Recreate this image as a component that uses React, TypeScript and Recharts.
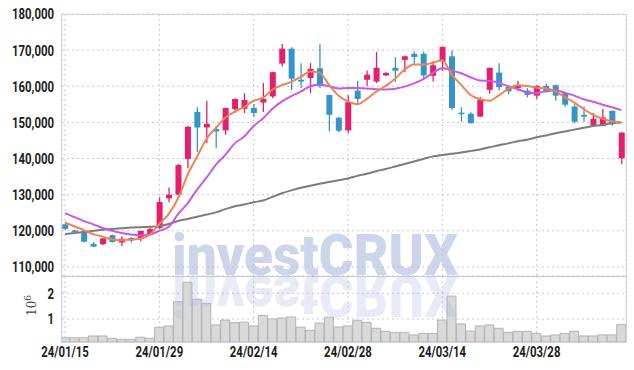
import React from 'react';
import { ComposedChart, BarChart, Bar, Line, XAxis, YAxis, CartesianGrid } from 'recharts';

// trading days, 24/01/15 .. 24/04/11
const dates = [
  '24/01/15', '24/01/16', '24/01/17', '24/01/18', '24/01/19', '24/01/22', '24/01/23', '24/01/24', '24/01/25', '24/01/26',
  '24/01/29', '24/01/30', '24/01/31', '24/02/01', '24/02/02', '24/02/05', '24/02/06', '24/02/07', '24/02/08', '24/02/13',
  '24/02/14', '24/02/15', '24/02/16', '24/02/19', '24/02/20', '24/02/21', '24/02/22', '24/02/23', '24/02/26', '24/02/27',
  '24/02/28', '24/02/29', '24/03/04', '24/03/05', '24/03/06', '24/03/07', '24/03/08', '24/03/11', '24/03/12', '24/03/13',
  '24/03/14', '24/03/15', '24/03/18', '24/03/19', '24/03/20', '24/03/21', '24/03/22', '24/03/25', '24/03/26', '24/03/27',
  '24/03/28', '24/03/29', '24/04/01', '24/04/02', '24/04/03', '24/04/04', '24/04/05', '24/04/08', '24/04/09', '24/04/11',
];

const opens = [
  121800, 120100, 120000, 116400, 116300, 118800, 116800, 118000, 117700, 118900,
  120800, 129000, 130000, 139900, 152900, 148600, 148200, 147800, 153700, 153800,
  154000, 155500, 157200, 166300, 170400, 161800, 162300, 165000, 157600, 151300,
  147800, 158800, 161800, 161300, 163000, 165100, 167300, 169000, 169000, 162900,
  166900, 168300, 152700, 152400, 151600, 159000, 163800, 159800, 159500, 158800,
  157400, 160100, 160300, 158100, 154400, 152100, 149100, 149100, 153200, 140100,
];
const highs = [
  122000, 120300, 120200, 116900, 118000, 119000, 118500, 118300, 120000, 121000,
  129300, 132000, 138500, 149000, 154200, 156000, 149000, 154100, 156600, 158100,
  155100, 160900, 164000, 171700, 170800, 166400, 166400, 171700, 157700, 151600,
  157500, 161500, 164400, 169500, 163900, 168100, 168500, 169600, 169600, 166900,
  171000, 169900, 154200, 152800, 157000, 165200, 166400, 160200, 161500, 159500,
  160300, 160700, 160500, 158300, 155000, 154400, 152600, 153700, 153300, 147300,
];
const lows = [
  120300, 119500, 116800, 115500, 116100, 116800, 115800, 116800, 117100, 118700,
  120500, 127900, 130000, 137300, 141800, 144300, 142900, 146600, 152600, 152600,
  151500, 152900, 156700, 165500, 159000, 159500, 158100, 159500, 147500, 147300,
  147000, 154900, 160100, 160900, 162800, 161200, 163900, 166200, 162300, 161300,
  164300, 153500, 150200, 149700, 151500, 157900, 158800, 157800, 158600, 156900,
  156500, 158300, 156000, 154400, 149800, 150200, 149000, 149000, 149100, 138400,
];
const closes = [
  120500, 119700, 117000, 115600, 117900, 116900, 117800, 117300, 120000, 120500,
  128000, 130000, 138200, 148800, 148600, 149600, 147500, 154000, 156500, 156200,
  152600, 156500, 163900, 170400, 162100, 161300, 164800, 160100, 152100, 147700,
  155600, 156500, 163200, 165100, 163700, 164300, 168300, 168100, 163000, 165800,
  170900, 154000, 152300, 149800, 156300, 165100, 159800, 158600, 160100, 157600,
  160100, 158400, 157400, 154900, 150200, 151600, 151000, 151400, 149500, 147200,
];
const volumes = [
  270000, 270000, 270000, 340000, 340000, 250000, 210000, 210000, 290000, 250000,
  680000, 730000, 1670000, 2430000, 1770000, 1610000, 770000, 960000, 860000, 880000,
  730000, 1140000, 1000000, 1040000, 1080000, 680000, 560000, 840000, 1070000, 690000,
  730000, 950000, 870000, 640000, 520000, 480000, 480000, 380000, 440000, 440000,
  960000, 1890000, 810000, 530000, 730000, 770000, 640000, 480000, 520000, 520000,
  440000, 340000, 380000, 440000, 520000, 340000, 340000, 380000, 380000, 790000,
];
const ma5 = [
  122300, 121200, 120200, 119100, 118400, 117600, 117400, 117600, 117800, 119000,
  121900, 124700, 129100, 135500, 140500, 145500, 148500, 151300, 153000, 154300,
  156000, 156800, 159100, 160300, 161200, 162600, 164100, 163700, 160400, 157400,
  155800, 155000, 156500, 158500, 160100, 162100, 164600, 166000, 166000, 166500,
  167200, 163200, 160400, 157600, 156400, 156000, 157500, 159300, 160300, 160100,
  159600, 159400, 158600, 157000, 155500, 153700, 152100, 151000, 150300, 150000,
];
const ma20 = [
  124900, 123800, 122700, 121800, 120800, 120000, 119400, 119000, 118700, 119000,
  120000, 121100, 124700, 127600, 131400, 134700, 138300, 141000, 144200, 146100,
  149000, 151100, 153800, 155800, 157300, 158500, 160000, 160400, 160000, 159400,
  159500, 159500, 159400, 159200, 159100, 159300, 159900, 160800, 162000, 163700,
  165000, 164400, 163600, 162500, 161600, 161500, 160900, 160000, 159200, 158300,
  158100, 158600, 158900, 158200, 157400, 156400, 155700, 154900, 154200, 153400,
];
const ma60 = [
  119100, 119400, 119700, 120000, 120300, 120500, 120700, 120900, 121000, 121100,
  121300, 121900, 122700, 123300, 123900, 124500, 125100, 126000, 126800, 127300,
  127900, 128400, 129400, 130400, 131200, 131900, 132500, 133000, 133500, 134000,
  134500, 135200, 135800, 136500, 137100, 137800, 138500, 139200, 139900, 140600,
  141000, 141300, 141700, 142100, 142500, 143100, 143700, 144200, 144800, 145200,
  145900, 146400, 147000, 147500, 148000, 148500, 149000, 149300, 149800, 150000,
];

const priceTicks = [110000, 120000, 130000, 140000, 150000, 160000, 170000, 180000];
const volumeTicks = [1000000, 2000000];
const dateTicks = [0, 10, 20, 30, 40, 50];

const UP = '#e61e6c';
const DOWN = '#3496c8';
const GRID = '#c4c8da';
const AXIS_FONT = "Roboto, 'Liberation Sans', sans-serif";

const data = dates.map((date, i) => ({
  i,
  date,
  open: opens[i],
  high: highs[i],
  low: lows[i],
  close: closes[i],
  volume: volumes[i],
  ma5: ma5[i],
  ma20: ma20[i],
  ma60: ma60[i],
}));

const xDomain = [-0.32, 59.48];

const Candle = (props: any) => {
  const { x, y, width, height, payload } = props;
  if (!payload || height == null) return null;
  const { open, close, high, low } = payload;
  const color = close >= open ? UP : DOWN;
  const range = high - low || 1;
  const px = (v: number) => y + ((high - v) / range) * height;
  const cx = x + width / 2;
  const top = px(Math.max(open, close));
  const bot = px(Math.min(open, close));
  return (
    <g>
      <line x1={cx} x2={cx} y1={y} y2={y + height} stroke={color} strokeWidth={1.3} />
      <rect x={x} y={top} width={width} height={Math.max(1.5, bot - top)} fill={color} />
    </g>
  );
};

// narrow, heavy axis lettering like the original
const NarrowTick = (props: any) => {
  const { x, y, payload, anchor, dy, fmt } = props;
  return (
    <g transform={`translate(${x},${y})`}>
      <text
        transform="scale(0.76,1)"
        textAnchor={anchor}
        dy={dy}
        fill="#1c1c1c"
        fontSize={15}
        fontWeight={700}
        fontFamily={AXIS_FONT}
      >
        {fmt(payload.value)}
      </text>
    </g>
  );
};

const fmtPrice = (v: number) => v.toLocaleString('en-US');
const fmtVol = (v: number) => String(v / 1000000);
const fmtDate = (v: number) => dates[v] ?? '';

export default function App() {
  return (
    <div style={{ position: 'absolute', left: 0, top: 0, width: 634, height: 370, background: '#fff', overflow: 'hidden' }}>
      <div style={{ position: 'absolute', left: 0, top: 0 }}>
        <ComposedChart width={634} height={276} data={data} margin={{ top: 14, right: 8, bottom: 0, left: 0 }}>
          <CartesianGrid stroke={GRID} strokeDasharray="2 3" />
          <XAxis dataKey="i" type="number" domain={xDomain} ticks={dateTicks} allowDataOverflow hide />
          <YAxis
            domain={[107500, 180000]}
            ticks={priceTicks}
            allowDataOverflow
            width={62}
            axisLine={false}
            tickLine={false}
            tickSize={0}
            tickMargin={8}
            tick={<NarrowTick anchor="end" dy="0.36em" fmt={fmtPrice} />}
          />
          <Line dataKey="ma60" type="monotone" stroke="#7c7c7c" strokeWidth={2} dot={false} isAnimationActive={false} />
          <Bar dataKey={(d: any) => [d.low, d.high]} barSize={6} shape={<Candle />} isAnimationActive={false} />
          <Line dataKey="ma20" type="monotone" stroke="#c95ae8" strokeWidth={2} dot={false} isAnimationActive={false} />
          <Line dataKey="ma5" type="monotone" stroke="#ef8452" strokeWidth={2} dot={false} isAnimationActive={false} />
        </ComposedChart>
      </div>
      <div style={{ position: 'absolute', left: 0, top: 276 }}>
        <BarChart width={634} height={94} data={data} margin={{ top: 0, right: 8, bottom: 8, left: 0 }}>
          <CartesianGrid stroke={GRID} strokeDasharray="2 3" />
          <XAxis
            dataKey="i"
            type="number"
            domain={xDomain}
            ticks={dateTicks}
            allowDataOverflow
            height={20}
            axisLine={false}
            tickLine={false}
            tickSize={0}
            tickMargin={3}
            tick={<NarrowTick anchor="middle" dy="0.78em" fmt={fmtDate} />}
          />
          <YAxis
            domain={[105000, 2673000]}
            ticks={volumeTicks}
            allowDataOverflow
            width={62}
            axisLine={false}
            tickLine={false}
            tickSize={0}
            tickMargin={8}
            tick={<NarrowTick anchor="end" dy="0.36em" fmt={fmtVol} />}
          />
          <Bar dataKey="volume" barSize={9} fill="#d9d9d9" stroke="#b3b3b3" strokeWidth={1} isAnimationActive={false} />
        </BarChart>
      </div>
      {/* frame and panel separator */}
      <div style={{ position: 'absolute', left: 61, top: 14, width: 564, height: 327, border: '1px solid #d2d4de' }} />
      <div style={{ position: 'absolute', left: 61, top: 276, width: 566, height: 1, background: '#c8c8cc' }} />
      {/* watermark + volume unit */}
      <svg width={634} height={370} style={{ position: 'absolute', left: 0, top: 0, pointerEvents: 'none' }}>
        <text
          x={172}
          y={275}
          textLength={286}
          lengthAdjust="spacingAndGlyphs"
          fontFamily="Roboto, 'Open Sans', sans-serif"
          fontWeight={900}
          fontSize={57}
          fill="#b0bbdd"
          fillOpacity={0.62}
        >
          investCRUX
        </text>
        <text
          x={172}
          y={275}
          transform="translate(0 551) scale(1 -1)"
          textLength={286}
          lengthAdjust="spacingAndGlyphs"
          fontFamily="Roboto, 'Open Sans', sans-serif"
          fontWeight={900}
          fontSize={57}
          fill="#b0bbdd"
          fillOpacity={0.28}
        >
          investCRUX
        </text>
        <text x={36} y={316} transform="rotate(-90 36 316)" fontFamily="'DejaVu Serif', serif" fontSize={12} fill="#444">
          10<tspan dy={-5} fontSize={9}>6</tspan>
        </text>
      </svg>
    </div>
  );
}
